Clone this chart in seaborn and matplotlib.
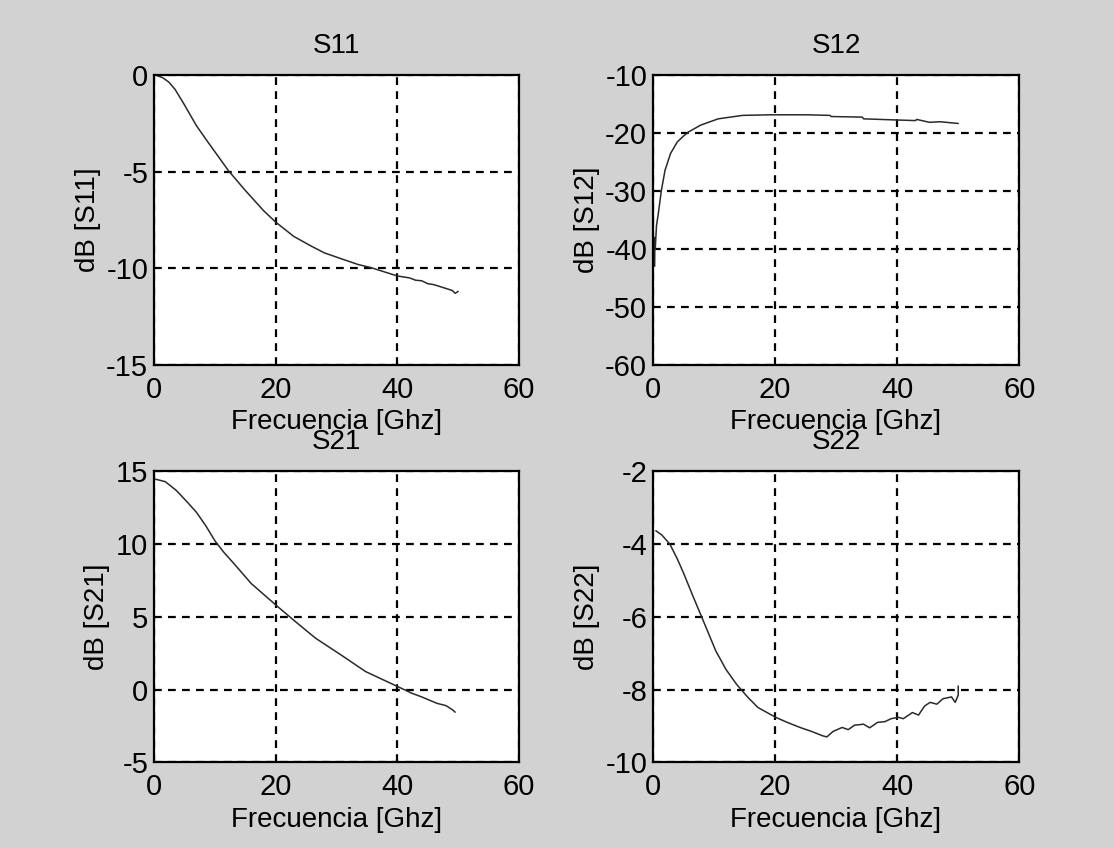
import matplotlib
matplotlib.use('Agg')
import matplotlib.pyplot as plt
import seaborn as sns

f_s11 = [0.5, 1.5, 2.5, 3.5, 5, 7, 9, 12.3, 15, 18, 20, 23, 25.8, 28, 31, 33.5, 35.8, 38,
         40, 41, 42, 43, 44, 45, 46, 47, 48, 49, 49.5, 50]
s11 = [0, -0.12, -0.35, -0.72, -1.5, -2.6, -3.5, -4.95, -5.95, -7.0, -7.6, -8.35, -8.84,
       -9.2, -9.53, -9.8, -9.98, -10.2, -10.4, -10.45, -10.5, -10.62, -10.65, -10.8,
       -10.85, -10.95, -11.05, -11.15, -11.3, -11.2]

f_s12 = [0.3, 0.35, 0.4, 0.6, 0.9, 1.4, 2.0, 2.9, 4.0, 5.0, 5.8, 7.8, 10.7, 14.7, 19.3,
         25.1, 29.0, 29.2, 34.3, 34.5, 40.0, 43.0, 43.2, 45.3, 47, 49, 50]
s12 = [-43, -38, -40, -36, -33.9, -29.9, -26.4, -23.5, -21.5, -20.5, -19.8, -18.6, -17.5,
       -16.9, -16.8, -16.8, -16.9, -17.1, -17.2, -17.5, -17.7, -17.8, -17.6, -18.1, -18.0,
       -18.2, -18.3]

f_s21 = [0.3, 1.9, 3.7, 5.5, 7.0, 8.5, 10.1, 11.5, 13.1, 16.0, 20.1, 23.6, 26.6, 30.7,
         34.8, 39.5, 42.4, 44, 46.5, 48, 49.1, 49.5]
s21 = [14.47, 14.3, 13.7, 12.9, 12.2, 11.3, 10.2, 9.45, 8.7, 7.3, 5.8, 4.56, 3.53, 2.4,
       1.24, 0.32, -0.25, -0.5, -0.94, -1.1, -1.4, -1.55]

f_s22 = [0.5, 1.5, 2.8, 4, 5.1, 6.5, 8, 10.3, 12, 13.7, 15.5, 17.2, 20.1, 22, 24.1, 26,
         27.8, 28.5, 29.5, 31, 32, 33, 34.5, 35.5, 36.8, 38, 39, 40.2, 41, 42.5, 43.5,
         44.5, 45.4, 46.5, 47.5, 48.9, 49.5, 50, 50]
s22 = [-3.63, -3.75, -4.0, -4.4, -4.82, -5.4, -6.0, -6.93, -7.45, -7.85, -8.2, -8.49,
       -8.76, -8.9, -9.04, -9.15, -9.27, -9.3, -9.15, -9.04, -9.1, -8.98, -8.95, -9.05,
       -8.9, -8.88, -8.8, -8.76, -8.8, -8.63, -8.7, -8.45, -8.35, -8.4, -8.25, -8.2,
       -8.35, -8.15, -7.9]

panels = [
    ('S11', f_s11, s11, (-15, 0), [-15, -10, -5, 0]),
    ('S12', f_s12, s12, (-60, -10), [-60, -50, -40, -30, -20, -10]),
    ('S21', f_s21, s21, (-5, 15), [-5, 0, 5, 10, 15]),
    ('S22', f_s22, s22, (-10, -2), [-10, -8, -6, -4, -2]),
]
x_ticks = [0, 20, 40, 60]

sns.set_style('white')
plt.rcParams['font.family'] = ['Liberation Sans', 'DejaVu Sans']
plt.rcParams['axes.unicode_minus'] = False
plt.rcParams['text.color'] = 'black'
plt.rcParams['axes.labelcolor'] = 'black'
bg = '#d2d2d2'

fig = plt.figure(figsize=(11.14, 8.48), dpi=100, facecolor=bg)
positions = [
    [0.138, 0.570, 0.328, 0.341],
    [0.586, 0.570, 0.329, 0.341],
    [0.138, 0.101, 0.328, 0.343],
    [0.586, 0.101, 0.329, 0.343],
]

for pos, (name, f, s, ylim, yt) in zip(positions, panels):
    ax = fig.add_axes(pos)
    ax.set_facecolor('white')
    sns.lineplot(x=f, y=s, ax=ax, color='#2a2a2a', linewidth=1.1, sort=False, estimator=None)
    ax.set_xlim(0, 60)
    ax.set_ylim(*ylim)
    ax.set_xticks(x_ticks)
    ax.set_yticks(yt)
    ax.grid(True, color='black', linestyle=(0, (3.5, 2.8)), linewidth=1.6)
    for sp in ax.spines.values():
        sp.set_visible(True)
        sp.set_color('black')
        sp.set_linewidth(1.6)
    ax.tick_params(direction='in', length=4, width=1, labelsize=21, colors='black')
    ax.tick_params(axis='x', pad=8)
    ax.tick_params(axis='y', pad=4)
    ax.set_title(name, fontsize=20, pad=16)
    ax.set_xlabel('Frecuencia [Ghz]', fontsize=20, labelpad=4)
    ax.set_ylabel('dB [%s]' % name, fontsize=20, labelpad=4)

fig.savefig('out.png', dpi=100, facecolor=bg)
